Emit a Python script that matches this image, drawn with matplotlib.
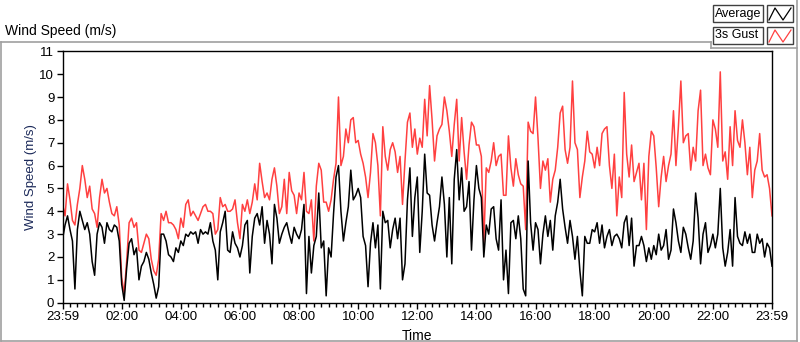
import numpy as np
import matplotlib
matplotlib.use("Agg")
import matplotlib.pyplot as plt
from matplotlib.lines import Line2D
from matplotlib.patches import Rectangle

plt.rcParams['font.family'] = ['Liberation Sans', 'DejaVu Sans']

# ── data: 5-minute samples (one row = one hour) ─────────────────────────────
average = [
    2.8, 3.4, 3.8, 3.2, 2.7, 0.6, 3.2, 4.0, 3.6, 3.2, 3.5, 3.0,
    1.8, 1.2, 3.0, 3.5, 3.3, 2.6, 3.5, 3.2, 3.1, 3.4, 3.3, 2.7,
    0.8, 0.1, 1.5, 2.6, 2.8, 2.1, 2.4, 1.0, 1.6, 1.8, 2.2, 1.9,
    1.3, 0.8, 0.2, 0.7, 3.0, 3.0, 2.7, 2.1, 2.0, 1.8, 2.4, 2.2,
    2.7, 2.5, 3.0, 2.9, 3.1, 3.0, 3.1, 2.6, 3.2, 3.0, 3.1, 3.0,
    3.5, 2.7, 2.3, 1.0, 3.1, 3.5, 4.0, 2.3, 2.2, 3.1, 2.6, 2.4,
    2.0, 2.5, 3.4, 3.6, 1.3, 2.9, 3.7, 3.9, 3.4, 4.2, 2.6, 3.6,
    3.0, 1.7, 4.3, 3.7, 2.6, 3.0, 3.3, 3.5, 3.0, 2.6, 3.3, 3.0,
    2.8, 3.2, 4.3, 0.4, 2.9, 1.3, 2.5, 2.9, 4.8, 2.4, 2.7, 0.3,
    2.4, 2.0, 3.9, 5.5, 6.0, 4.0, 2.7, 3.5, 4.2, 5.8, 4.5, 4.7,
    5.0, 4.6, 2.9, 2.5, 0.7, 2.6, 3.5, 2.4, 3.4, 0.6, 4.0, 3.5,
    3.6, 2.4, 3.2, 3.7, 2.8, 3.7, 1.0, 1.7, 4.5, 5.9, 2.9, 4.6,
    5.5, 2.2, 4.0, 6.5, 4.8, 4.7, 3.4, 2.7, 3.5, 4.2, 5.5, 4.3,
    2.0, 4.6, 1.7, 5.4, 6.7, 4.5, 5.9, 4.0, 4.2, 5.3, 2.3, 4.5,
    6.0, 5.0, 4.6, 2.0, 3.4, 3.0, 4.1, 4.2, 2.8, 2.3, 4.5, 1.0,
    2.3, 0.4, 3.5, 3.6, 2.8, 3.8, 2.8, 0.6, 0.3, 6.2, 3.5, 2.3,
    3.5, 3.2, 1.7, 3.0, 3.8, 2.9, 3.6, 2.3, 3.8, 4.4, 5.4, 4.1,
    3.3, 2.6, 3.6, 2.9, 1.9, 2.9, 1.4, 0.3, 2.9, 2.6, 2.6, 3.2,
    3.1, 3.5, 2.6, 3.4, 2.4, 2.9, 3.2, 2.5, 2.9, 3.0, 2.8, 2.4,
    3.5, 3.8, 2.5, 3.7, 1.6, 2.5, 2.5, 2.9, 2.5, 1.8, 2.4, 1.9,
    2.5, 2.1, 3.0, 2.3, 2.5, 3.2, 1.9, 2.3, 4.1, 3.5, 2.7, 2.2,
    3.3, 3.0, 2.4, 1.9, 2.7, 4.8, 3.7, 1.7, 3.0, 3.5, 2.2, 2.5,
    3.0, 2.4, 3.0, 5.0, 2.4, 1.6, 2.2, 3.2, 1.6, 4.6, 2.9, 2.6,
    2.5, 3.1, 2.6, 3.0, 2.2, 2.2, 3.0, 2.6, 2.8, 2.0, 2.6, 2.4,
    1.6,
]
gust_3s = [
    4.3, 3.8, 5.2, 4.5, 3.6, 3.4, 4.3, 5.0, 6.0, 5.4, 4.6, 5.1,
    4.1, 3.9, 3.3, 4.6, 5.4, 4.8, 5.0, 4.4, 3.9, 3.8, 4.2, 3.4,
    1.1, 0.4, 1.8, 3.5, 3.7, 3.3, 3.5, 2.3, 2.2, 2.6, 3.0, 2.8,
    1.9, 1.4, 1.2, 1.9, 3.9, 3.6, 4.0, 3.5, 3.5, 3.4, 3.2, 2.8,
    3.7, 3.3, 4.3, 4.5, 3.8, 4.0, 3.8, 3.6, 3.9, 4.2, 4.3, 4.0,
    4.0, 3.9, 3.0, 3.2, 4.6, 4.2, 4.3, 4.0, 4.0, 4.1, 4.5, 3.5,
    2.8, 4.3, 4.0, 4.5, 3.9, 4.4, 5.2, 4.5, 6.1, 5.3, 4.6, 4.8,
    4.5, 5.4, 5.9, 5.1, 3.9, 4.2, 5.4, 3.9, 5.7, 4.9, 4.7, 3.9,
    4.8, 4.5, 5.7, 4.0, 3.9, 4.5, 2.7, 5.1, 6.1, 5.8, 4.4, 4.4,
    4.0, 4.5, 5.4, 6.1, 9.0, 6.0, 6.4, 7.6, 7.0, 8.0, 8.1, 7.0,
    7.1, 6.5, 6.1, 5.5, 4.6, 5.7, 7.4, 7.0, 6.0, 3.8, 7.7, 6.4,
    5.8, 6.7, 7.0, 6.6, 5.7, 6.4, 4.3, 6.2, 7.9, 8.3, 6.8, 7.6,
    6.5, 7.2, 6.8, 8.9, 7.3, 9.5, 8.0, 6.2, 7.3, 7.6, 7.8, 9.0,
    8.4, 7.5, 6.4, 7.8, 8.9, 6.2, 8.1, 6.6, 5.4, 6.9, 7.9, 7.7,
    6.9, 6.9, 6.4, 2.6, 5.9, 5.7, 6.2, 7.0, 6.0, 6.4, 6.5, 4.7,
    4.7, 7.3, 5.9, 5.1, 6.3, 5.6, 5.2, 5.1, 3.2, 7.9, 7.5, 7.4,
    9.0, 7.2, 5.0, 6.2, 5.8, 6.3, 4.4, 5.4, 5.8, 6.8, 8.3, 8.6,
    6.7, 6.1, 6.8, 9.7, 7.0, 6.7, 4.6, 5.5, 6.2, 7.5, 6.6, 6.5,
    5.9, 6.8, 6.0, 7.4, 7.6, 7.7, 6.0, 5.0, 6.5, 3.8, 5.5, 4.6,
    9.2, 6.5, 5.5, 6.9, 5.3, 5.7, 6.1, 4.5, 6.1, 3.2, 6.4, 7.5,
    7.3, 5.9, 4.2, 5.5, 6.4, 5.3, 6.0, 6.5, 8.4, 6.0, 7.7, 9.7,
    7.0, 7.3, 7.4, 5.8, 6.8, 6.2, 8.4, 9.3, 6.0, 6.5, 5.9, 5.6,
    8.0, 7.6, 6.8, 10.1, 6.2, 6.6, 5.4, 7.7, 6.0, 8.4, 7.1, 6.8,
    8.0, 7.0, 5.6, 6.8, 4.6, 5.8, 6.2, 7.4, 5.8, 5.5, 5.6, 5.0,
    3.8,
]
minutes = np.arange(len(average)) * 5          # minutes since 23:59
tick_labels = ['23:59', '02:00', '04:00', '06:00', '08:00', '10:00', '12:00',
               '14:00', '16:00', '18:00', '20:00', '22:00', '23:59']

W, H = 800, 342
fig = plt.figure(figsize=(W / 100, H / 100), dpi=100)

def fx(x):
    return x / W

def fy(y):
    return 1 - y / H

ax = fig.add_axes([fx(62.6), fy(302.7), (772 - 62.6) / W, (302.7 - 51.3) / H])
ax.plot(minutes, gust_3s, color='#ff4040', lw=1.1)
ax.plot(minutes, average, color='black', lw=1.1)

ax.set_xlim(0, 1440)
ax.set_ylim(0, 11)
ax.set_xticks(np.arange(0, 1441, 120))
ax.set_xticklabels(tick_labels)
ax.set_xticks(np.arange(0, 1441, 15), minor=True)
ax.set_yticks(range(0, 12))
ax.tick_params(axis='both', which='major', direction='out', length=4, width=1,
               labelsize=9.5, pad=2, colors='black')
ax.tick_params(axis='x', which='minor', direction='out', length=3, width=1)
for s in ax.spines.values():
    s.set_color('black')
    s.set_linewidth(1.0)

ax.set_ylabel('Wind Speed (m/s)', fontsize=9.5, color='#1c2a5a', labelpad=2)
ax.set_xlabel('Time', fontsize=10, labelpad=4)

# panel title
fig.text(fx(5), fy(31), 'Wind Speed (m/s)', fontsize=10, va='center', ha='left')

# panel frame (gray)
gray = '#a0a0a0'
frame = [((1, 42), (711, 42)), ((711, 42), (711, 48)), ((711, 48), (797, 48)),
         ((797, 0), (797, 341)), ((1, 42), (1, 341)), ((1, 341), (797, 341))]
for (x0, y0), (x1, y1) in frame:
    fig.add_artist(Line2D([fx(x0), fx(x1)], [fy(y0), fy(y1)], color=gray, lw=1.2))

# legend boxes
for top, label, col in [(5, 'Average', 'black'), (27, '3s Gust', '#ff4040')]:
    fig.add_artist(Rectangle((fx(713), fy(top + 17)), fx(50), 17 / H, fill=False,
                             ec='#404040', lw=1.0))
    fig.add_artist(Rectangle((fx(767), fy(top + 17)), fx(26), 17 / H, fill=False,
                             ec='#404040', lw=1.0))
    fig.text(fx(715), fy(top + 8.5), label, fontsize=9, va='center', ha='left')
    xs = [769, 775, 783, 791]
    ys = [top + 15, top + 3, top + 15, top + 3]
    fig.add_artist(Line2D([fx(v) for v in xs], [fy(v) for v in ys], color=col, lw=0.9))

fig.savefig('out.png', dpi=100)
